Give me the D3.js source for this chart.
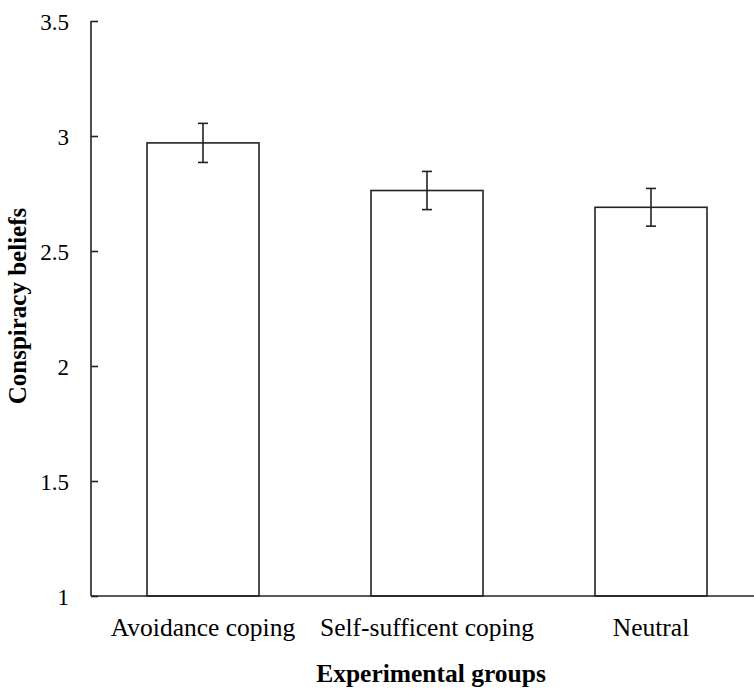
<!DOCTYPE html>
<html>
<head>
<meta charset="utf-8">
<script src="https://cdn.jsdelivr.net/npm/d3@7"></script>
<style>
  body { margin: 0; background: #fff; }
  text { font-family: "Liberation Serif", "Times New Roman", serif; fill: #000; }
</style>
</head>
<body>
<svg id="chart" width="754" height="692"></svg>
<script>
// data
var groups = ["Avoidance coping", "Self-sufficent coping", "Neutral"];
var means = [2.97, 2.763, 2.69];
var errs = [0.085, 0.083, 0.082];
var yTicks = [1, 1.5, 2, 2.5, 3, 3.5];

var svg = d3.select("#chart")
    , margin = {top: 21, right: -9, bottom: 96, left: 91}
    , width = +svg.attr("width") - margin.left - margin.right
    , height = +svg.attr("height") - margin.top - margin.bottom
    , g = svg.append("g").attr("transform", "translate(" + margin.left + "," + margin.top + ")")
    , stroke = "#222"
    ;

var x = d3.scaleBand()
    .domain(groups)
    .range([0, width])
    .paddingInner(0.5)
    .paddingOuter(0.25);

var y = d3.scaleLinear()
    .domain([1, 3.5])
    .range([height, 0]);

// bars
g.selectAll("rect.bar")
    .data(groups)
    .enter().append("rect")
    .attr("class", "bar")
    .attr("x", function(d) { return x(d); })
    .attr("y", function(d, i) { return y(means[i]); })
    .attr("width", x.bandwidth())
    .attr("height", function(d, i) { return y(1) - y(means[i]); })
    .attr("fill", "#fff")
    .attr("stroke", stroke)
    .attr("stroke-width", 1.6);

// error bars
var eb = g.selectAll("g.err")
    .data(groups)
    .enter().append("g")
    .attr("class", "err")
    .attr("stroke", stroke)
    .attr("stroke-width", 1.6);

eb.append("line")
    .attr("x1", function(d) { return x(d) + x.bandwidth() / 2; })
    .attr("x2", function(d) { return x(d) + x.bandwidth() / 2; })
    .attr("y1", function(d, i) { return y(means[i] + errs[i]); })
    .attr("y2", function(d, i) { return y(means[i] - errs[i]); });

[1, -1].forEach(function(s) {
    eb.append("line")
        .attr("x1", function(d) { return x(d) + x.bandwidth() / 2 - 5; })
        .attr("x2", function(d) { return x(d) + x.bandwidth() / 2 + 5; })
        .attr("y1", function(d, i) { return y(means[i] + s * errs[i]); })
        .attr("y2", function(d, i) { return y(means[i] + s * errs[i]); });
});

// y axis, ticks pointing inward
var yAxis = g.append("g")
    .attr("class", "axis axis--y")
    .call(d3.axisRight(y).tickValues(yTicks).tickSize(7).tickFormat(d3.format("")));

yAxis.attr("font-family", null);
yAxis.select(".domain").remove();
yAxis.append("line")
    .attr("x1", 0).attr("x2", 0)
    .attr("y1", y(3.5)).attr("y2", y(1))
    .attr("stroke", stroke).attr("stroke-width", 1.6);
yAxis.selectAll(".tick line").attr("stroke", stroke).attr("stroke-width", 1.6);
yAxis.selectAll(".tick text")
    .attr("x", -22)
    .attr("dy", "0.35em")
    .attr("text-anchor", "end")
    .style("font-size", "23px")
    .attr("fill", "#000");

// x axis
var xAxis = g.append("g")
    .attr("class", "axis axis--x")
    .attr("transform", "translate(0," + height + ")")
    .call(d3.axisBottom(x).tickSize(0).tickPadding(20));

xAxis.attr("font-family", null);
xAxis.select(".domain").remove();
xAxis.append("line")
    .attr("x1", 0).attr("x2", width)
    .attr("stroke", stroke).attr("stroke-width", 1.6);
xAxis.selectAll(".tick text")
    .attr("y", 40)
    .attr("dy", 0)
    .style("font-size", "25.5px")
    .attr("fill", "#000");

// axis titles
svg.append("text")
    .attr("x", 431)
    .attr("y", 682)
    .attr("text-anchor", "middle")
    .style("font-size", "25.5px")
    .style("font-weight", "bold")
    .text("Experimental groups");

svg.append("text")
    .attr("transform", "translate(26,306) rotate(-90)")
    .attr("text-anchor", "middle")
    .style("font-size", "25px")
    .style("font-weight", "bold")
    .text("Conspiracy beliefs");
</script>
</body>
</html>
